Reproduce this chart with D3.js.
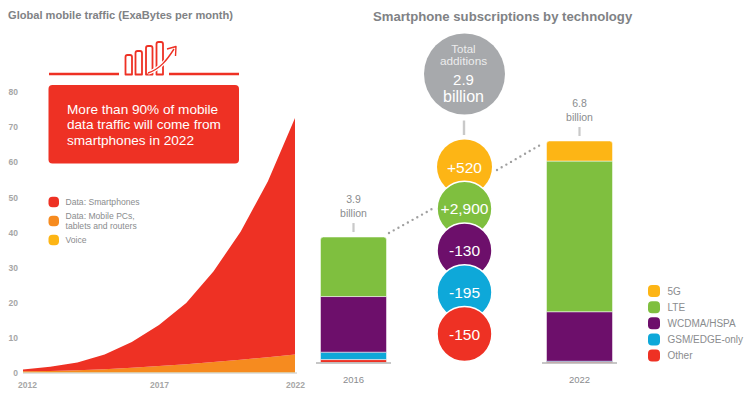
<!DOCTYPE html>
<html>
<head>
<meta charset="utf-8">
<script src="https://cdn.jsdelivr.net/npm/d3@7"></script>
<style>
  html, body { margin: 0; padding: 0; background: #fff; }
  svg { display: block; font-family: "Liberation Sans", Arial, sans-serif; }
  .axis text { fill: #a6a6a6; font-size: 8.5px; font-weight: bold; }
  .axis line, .axis .domain { display: none; }
  .title { fill: #808285; font-weight: bold; }
  .label { fill: #8a8c8e; }
</style>
</head>
<body>
<svg id="chart" width="750" height="394"></svg>
<script>
// Left chart: traffic by year (EB per month)
const years = [2012, 2013, 2014, 2015, 2016, 2017, 2018, 2019, 2020, 2021, 2022];
const voice = [0.2, 0.2, 0.2, 0.2, 0.2, 0.2, 0.2, 0.2, 0.2, 0.2, 0.2];
const mobilePcs = [0.3, 0.4, 0.6, 0.9, 1.3, 1.8, 2.3, 2.9, 3.6, 4.3, 5.1];
const smartphones = [0.5, 1.2, 2.2, 4.2, 7.3, 11.7, 17.4, 25.8, 36.4, 50, 67.3];
const trafficTicks = [0, 10, 20, 30, 40, 50, 60, 70, 80];
const yearTicks = [2012, 2017, 2022];
const trafficLegend = [
  ["Data: Smartphones"],
  ["Data: Mobile PCs,", "tablets and routers"],
  ["Voice"],
];

// Right chart: subscriptions (billions)
const barYears = [2016, 2022];
const technologies = ["5G", "LTE", "WCDMA/HSPA", "GSM/EDGE-only", "Other"];
const sub5G = [0, 0.62];
const subLTE = [1.84, 4.66];
const subWCDMA = [1.72, 1.53];
const subGSM = [0.23, 0.02];
const subOther = [0.09, 0.02];
const barTotals = ["3.9", "6.8"];
const additions = ["+520", "+2,900", "-130", "-195", "-150"];

const colors = {
  red: "#ee3124",
  orange: "#f68b1f",
  yellow: "#fdb515",
  green: "#7fbf3f",
  purple: "#6d0f6b",
  cyan: "#0ea8d9",
  gray: "#a7a9ac",
};
const techColors = [colors.yellow, colors.green, colors.purple, colors.cyan, colors.red];

const svg = d3.select("#chart");

function initTraffic() {
  const g = svg.append("g");

  g.append("text")
    .attr("class", "title")
    .attr("x", 8)
    .attr("y", 19)
    .attr("font-size", 11.1)
    .text("Global mobile traffic (ExaBytes per month)");

  const x = d3.scaleLinear().domain([2012, 2022]).range([23, 295]);
  const y = d3.scaleLinear().domain([0, 80]).range([373, 92]);

  const rows = years.map((year, i) => ({
    year,
    voice: voice[i],
    pcs: mobilePcs[i],
    phones: smartphones[i],
  }));
  const stack = d3.stack().keys(["voice", "pcs", "phones"]);
  const area = d3
    .area()
    .x((d) => x(d.data.year))
    .y0((d) => y(d[0]))
    .y1((d) => y(d[1]));
  const fills = ["#f7d774", colors.orange, colors.red];

  g.selectAll("path.layer")
    .data(stack(rows))
    .join("path")
    .attr("class", "layer")
    .attr("fill", (d, i) => fills[i])
    .attr("d", area);

  // Baseline
  g.append("line")
    .attr("x1", x(2012))
    .attr("x2", 297)
    .attr("y1", y(0))
    .attr("y2", y(0))
    .attr("stroke", "#c4c4c4")
    .attr("stroke-width", 1);

  g.append("g")
    .attr("class", "axis")
    .attr("transform", "translate(18,0)")
    .call(d3.axisLeft(y).tickValues(trafficTicks).tickSize(0).tickPadding(0));

  const xAxis = g
    .append("g")
    .attr("class", "axis")
    .attr("transform", "translate(0,382)")
    .call(
      d3.axisBottom(x).tickValues(yearTicks).tickFormat(d3.format("d")).tickSize(0).tickPadding(0)
    );
  xAxis.selectAll("text").attr("dx", (d) => (d === 2012 ? 4 : 0));

  // Callout rule and icon
  const rule = g.append("g").attr("stroke", colors.red).attr("stroke-width", 2.4);
  rule.append("line").attr("x1", 49).attr("x2", 119).attr("y1", 74).attr("y2", 74);
  rule.append("line").attr("x1", 169).attr("x2", 239).attr("y1", 74).attr("y2", 74);

  const icon = g
    .append("g")
    .attr("fill", "#fff")
    .attr("stroke", colors.red)
    .attr("stroke-width", 1.8)
    .attr("stroke-linejoin", "round");
  [
    [125.5, 55],
    [135.5, 51],
    [146, 46],
    [156.5, 42],
  ].forEach(([bx, by]) => {
    icon
      .append("path")
      .attr("d", `M${bx},74.5V${by + 2}q0,-2 2,-2h2.5q2,0 2,2V74.5Z`);
  });
  icon
    .append("path")
    .attr("fill", "none")
    .attr("stroke", "#fff")
    .attr("stroke-width", 3.6)
    .attr("d", "M148,73C160,69 167,60 174,49");
  icon
    .append("path")
    .attr("fill", "none")
    .attr("stroke-width", 1.4)
    .attr("d", "M148,73C160,69 167,60 174,49M167,49L176,46.5L175.5,56");

  // Callout box
  g.append("rect")
    .attr("x", 48.5)
    .attr("y", 85)
    .attr("width", 190.5)
    .attr("height", 78.5)
    .attr("rx", 4)
    .attr("fill", colors.red);
  g.append("text")
    .attr("fill", "#fff")
    .attr("font-size", 13.6)
    .selectAll("tspan")
    .data(["More than 90% of mobile", "data traffic will come from", "smartphones in 2022"])
    .join("tspan")
    .attr("x", 67)
    .attr("y", (d, i) => 113.5 + i * 15.6)
    .text((d) => d);

  // Legend
  const legendColors = [colors.red, colors.orange, colors.yellow];
  const legendY = [202, 221, 240];
  const legend = g
    .selectAll("g.legend")
    .data(trafficLegend)
    .join("g")
    .attr("class", "legend")
    .attr("transform", (d, i) => `translate(48.5,${legendY[i]})`);
  legend
    .append("rect")
    .attr("y", -5.2)
    .attr("width", 10.5)
    .attr("height", 10.5)
    .attr("rx", 4)
    .attr("fill", (d, i) => legendColors[i]);
  legend
    .append("text")
    .attr("class", "label")
    .attr("font-size", 8.6)
    .selectAll("tspan")
    .data((d) => d.map((line, i) => ({ line, i, n: d.length })))
    .join("tspan")
    .attr("x", 17)
    .attr("y", (d) => 3 + (d.i - (d.n - 1) / 2) * 9.4)
    .text((d) => d.line);
}

function initSubscriptions() {
  const g = svg.append("g");

  g.append("text")
    .attr("class", "title")
    .attr("x", 373)
    .attr("y", 21)
    .attr("font-size", 13.15)
    .text("Smartphone subscriptions by technology");

  const x = d3.scalePoint().domain(barYears).range([353.5, 579.5]);
  const y = d3.scaleLinear().domain([0, 6.85]).range([362.5, 141]);
  const barWidth = 66;

  const rows = barYears.map((year, i) => ({
    year,
    "5G": sub5G[i],
    LTE: subLTE[i],
    "WCDMA/HSPA": subWCDMA[i],
    "GSM/EDGE-only": subGSM[i],
    Other: subOther[i],
  }));
  const keys = technologies.slice().reverse();
  const layers = d3.stack().keys(keys)(rows);

  // Top segment of each bar gets rounded corners
  const segment = (d, isTop) => {
    const left = x(d.data.year) - barWidth / 2;
    const right = left + barWidth;
    const y0 = y(d[0]);
    const y1 = y(d[1]);
    if (!isTop) return `M${left},${y0}V${y1}H${right}V${y0}Z`;
    return `M${left},${y0}V${y1 + 3}Q${left},${y1} ${left + 3},${y1}H${right - 3}Q${right},${y1} ${right},${y1 + 3}V${y0}Z`;
  };

  g.selectAll("g.layer")
    .data(layers)
    .join("g")
    .attr("class", "layer")
    .attr("fill", (d) => techColors[technologies.indexOf(d.key)])
    .selectAll("path")
    .data((d) => d.map((s) => Object.assign(s, { key: d.key })))
    .join("path")
    .filter((d) => d[1] > d[0])
    .attr("d", (d) => {
      const isTop = d.data.year === 2022 ? d.key === "5G" : d.key === "LTE";
      return segment(d, isTop);
    })
    .attr("stroke", "#fff")
    .attr("stroke-width", (d) => (d[1] - d[0] < 0.05 ? 0 : 0.5));

  // Baselines, year labels and totals under / over each bar
  barYears.forEach((year, i) => {
    const cx = x(year);
    const top = y(d3.sum(layers, (l) => l[i][1] - l[i][0]));
    g.append("line")
      .attr("x1", cx - 37.5)
      .attr("x2", cx + 37.5)
      .attr("y1", 363)
      .attr("y2", 363)
      .attr("stroke", "#b5b5b5")
      .attr("stroke-width", 1.3);
    g.append("text")
      .attr("class", "label")
      .attr("x", cx)
      .attr("y", 383)
      .attr("text-anchor", "middle")
      .attr("font-size", 9.5)
      .text(year);
    g.append("line")
      .attr("x1", cx)
      .attr("x2", cx)
      .attr("y1", top - 14)
      .attr("y2", top - 5)
      .attr("stroke", "#c9c9c9")
      .attr("stroke-width", 2.2);
    g.append("text")
      .attr("class", "label")
      .attr("text-anchor", "middle")
      .attr("font-size", 10.5)
      .selectAll("tspan")
      .data([barTotals[i], "billion"])
      .join("tspan")
      .attr("x", cx)
      .attr("y", (d, k) => top - 34 + k * 13.5)
      .text((d) => d);
  });

  // Dotted connectors
  [
    [389, 233, 432, 209],
    [497, 170, 541, 144.5],
  ].forEach(([x1, y1, x2, y2]) => {
    g.append("line")
      .attr("x1", x1)
      .attr("y1", y1)
      .attr("x2", x2)
      .attr("y2", y2)
      .attr("stroke", "#a0a0a0")
      .attr("stroke-width", 2.4)
      .attr("stroke-linecap", "round")
      .attr("stroke-dasharray", "0 5.4");
  });

  // Total additions bubble
  const cx = 464.5;
  g.append("circle").attr("cx", cx).attr("cy", 74).attr("r", 40.5).attr("fill", colors.gray);
  const bubbleLines = [
    ["Total", 53, 11.5, 0.8],
    ["additions", 64.5, 11.8, 0.8],
    ["2.9", 84.5, 15, 1],
    ["billion", 101.5, 16, 1],
  ];
  g.selectAll("text.bubble")
    .data(bubbleLines)
    .join("text")
    .attr("class", "bubble")
    .attr("x", cx - 1)
    .attr("y", (d) => d[1])
    .attr("text-anchor", "middle")
    .attr("fill", "#fff")
    .attr("fill-opacity", (d) => d[3])
    .attr("font-size", (d) => d[2])
    .text((d) => d[0]);
  g.append("line")
    .attr("x1", cx - 0.5)
    .attr("x2", cx - 0.5)
    .attr("y1", 120.5)
    .attr("y2", 135)
    .attr("stroke", "#c9c9c9")
    .attr("stroke-width", 2.4);

  // Stacked addition circles, each overlapping the one above it
  const cy = d3.scalePoint().domain(additions).range([167, 334]);
  const circles = g
    .selectAll("g.addition")
    .data(additions)
    .join("g")
    .attr("class", "addition")
    .attr("transform", (d) => `translate(${cx},${cy(d)})`);
  circles
    .append("circle")
    .attr("r", 27.5)
    .attr("fill", (d, i) => techColors[i])
    .attr("stroke", "#fff")
    .attr("stroke-width", (d, i) => (i === 0 ? 0 : 1.6));
  circles
    .append("text")
    .attr("y", 5.5)
    .attr("text-anchor", "middle")
    .attr("fill", "#fff")
    .attr("font-size", 15.5)
    .text((d) => d);

  // Legend
  const legendY = d3.scalePoint().domain(technologies).range([291, 355.5]);
  const legend = g
    .selectAll("g.legend")
    .data(technologies)
    .join("g")
    .attr("class", "legend")
    .attr("transform", (d) => `translate(648,${legendY(d)})`);
  legend
    .append("rect")
    .attr("y", -6)
    .attr("width", 12)
    .attr("height", 12)
    .attr("rx", 4)
    .attr("fill", (d, i) => techColors[i]);
  legend
    .append("text")
    .attr("class", "label")
    .attr("x", 19.5)
    .attr("y", 3.5)
    .attr("font-size", 10)
    .text((d) => d);
}

initTraffic();
initSubscriptions();
</script>
</body>
</html>
